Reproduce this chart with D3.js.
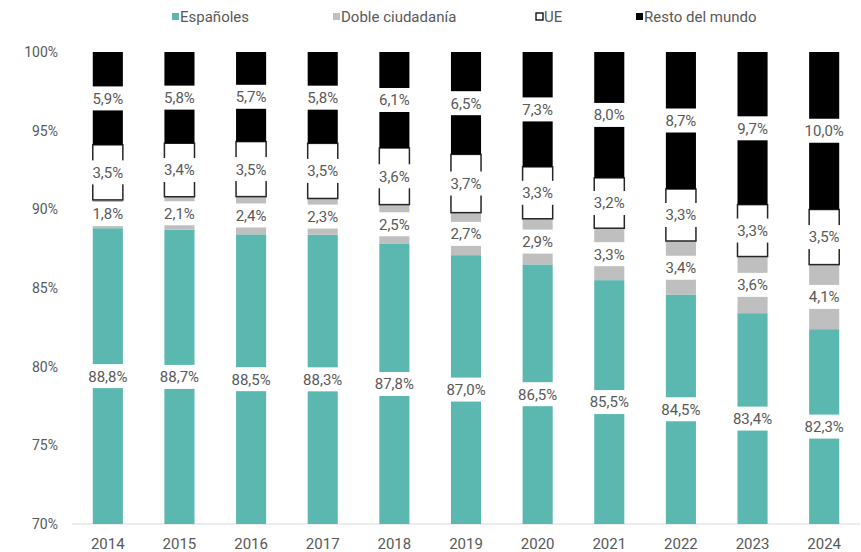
<!DOCTYPE html>
<html>
<head>
<meta charset="utf-8">
<script src="https://cdn.jsdelivr.net/npm/d3@7"></script>
<style>
  body { margin: 0; background: #fff; }
  svg { font-family: "Roboto", "Liberation Sans", sans-serif; }
  .axis text { fill: #595959; font-size: 14px; }
</style>
</head>
<body>
<svg id="chart"></svg>
<script>
var years = ["2014", "2015", "2016", "2017", "2018", "2019", "2020", "2021", "2022", "2023", "2024"];
var espanoles = [88.8, 88.7, 88.5, 88.3, 87.8, 87.0, 86.5, 85.5, 84.5, 83.4, 82.3];
var dobleCiudadania = [1.8, 2.1, 2.4, 2.3, 2.5, 2.7, 2.9, 3.3, 3.4, 3.6, 4.1];
var ue = [3.5, 3.4, 3.5, 3.5, 3.6, 3.7, 3.3, 3.2, 3.3, 3.3, 3.5];
var restoMundo = [5.9, 5.8, 5.7, 5.8, 6.1, 6.5, 7.3, 8.0, 8.7, 9.7, 10.0];
var seriesNames = ["Españoles", "Doble ciudadanía", "UE", "Resto del mundo"];
var yTicks = [70, 75, 80, 85, 90, 95, 100];

var width = 861, height = 552;
var margin = {top: 52, right: 1, bottom: 28, left: 72};

var svg = d3.select("#chart")
    .attr("width", width)
    .attr("height", height);

var colors = {
  "Españoles": "#5bb8b0",
  "Doble ciudadanía": "#bfbfbf",
  "UE": "#ffffff",
  "Resto del mundo": "#000000"
};

var rows = years.map(function(y, i) {
  var total = espanoles[i] + dobleCiudadania[i] + ue[i] + restoMundo[i];
  return {
    year: y,
    raw: [espanoles[i], dobleCiudadania[i], ue[i], restoMundo[i]],
    "Españoles": espanoles[i] / total * 100,
    "Doble ciudadanía": dobleCiudadania[i] / total * 100,
    "UE": ue[i] / total * 100,
    "Resto del mundo": restoMundo[i] / total * 100
  };
});

var stacked = d3.stack().keys(seriesNames)(rows);

var x = d3.scaleBand()
    .domain(years)
    .range([margin.left, width - margin.right])
    .paddingInner(0.58)
    .paddingOuter(0.29);

var y = d3.scaleLinear()
    .domain([70, 100])
    .range([height - margin.bottom, margin.top]);

// y axis labels
svg.append("g")
    .attr("class", "axis")
    .selectAll("text")
    .data(yTicks)
    .enter().append("text")
    .attr("x", 58)
    .attr("y", function(d) { return y(d); })
    .attr("dy", "0.35em")
    .attr("text-anchor", "end")
    .text(function(d) { return d + "%"; });

// baseline
svg.append("line")
    .attr("x1", margin.left)
    .attr("x2", width - margin.right)
    .attr("y1", y(70))
    .attr("y2", y(70))
    .attr("stroke", "#d9d9d9")
    .attr("stroke-width", 1);

// x axis labels
svg.append("g")
    .attr("class", "axis")
    .selectAll("text")
    .data(years)
    .enter().append("text")
    .attr("x", function(d) { return x(d) + x.bandwidth() / 2; })
    .attr("y", y(70) + 20)
    .attr("dy", "0.35em")
    .attr("text-anchor", "middle")
    .style("font-size", "15px")
    .text(function(d) { return d; });

var fmt = function(v) { return v.toFixed(1).replace(".", ",") + "%"; };

// bars
var layers = svg.append("g").selectAll("g")
    .data(stacked)
    .enter().append("g");

layers.selectAll("rect")
    .data(function(s) { return s.map(function(d) { d.key = s.key; return d; }); })
    .enter().append("rect")
    .attr("x", function(d) { return x(d.data.year); })
    .attr("width", x.bandwidth())
    .attr("y", function(d) { return y(d[1]); })
    .attr("height", function(d) { return y(Math.max(70, d[0])) - y(d[1]); })
    .attr("fill", function(d) { return colors[d.key]; })
    .attr("stroke", function(d) { return d.key === "UE" ? "#262626" : "none"; })
    .attr("stroke-width", function(d) { return d.key === "UE" ? 1.5 : 0; });

// labels with white boxes
var labels = svg.append("g");
stacked.forEach(function(s, si) {
  s.forEach(function(d, i) {
    var mid = (Math.max(70, d[0]) + d[1]) / 2;
    var cx = x(d.data.year) + x.bandwidth() / 2;
    var g = labels.append("g").attr("transform", "translate(" + cx + "," + y(mid) + ")");
    g.append("rect")
      .attr("x", -26)
      .attr("y", -12)
      .attr("width", 52)
      .attr("height", 24)
      .attr("fill", "#fff");
    g.append("text")
      .attr("text-anchor", "middle")
      .attr("dy", "0.36em")
      .attr("fill", "#595959")
      .style("font-size", "15px")
      .text(fmt(d.data.raw[si]));
  });
});

// legend
var legendX = [172, 333, 536, 636];
var legend = svg.append("g")
    .selectAll("g")
    .data(seriesNames)
    .enter().append("g")
    .attr("transform", function(d, i) { return "translate(" + legendX[i] + ",17)"; });

legend.append("rect")
    .attr("x", 0)
    .attr("y", -4)
    .attr("width", 7)
    .attr("height", 7)
    .attr("fill", function(d) { return colors[d]; })
    .attr("stroke", function(d) { return d === "UE" ? "#000" : "none"; })
    .attr("stroke-width", 1.3);

legend.append("text")
    .attr("x", 8)
    .attr("y", 0)
    .attr("dy", "0.35em")
    .attr("fill", "#595959")
    .style("font-size", "15px")
    .text(function(d) { return d; });
</script>
</body>
</html>
